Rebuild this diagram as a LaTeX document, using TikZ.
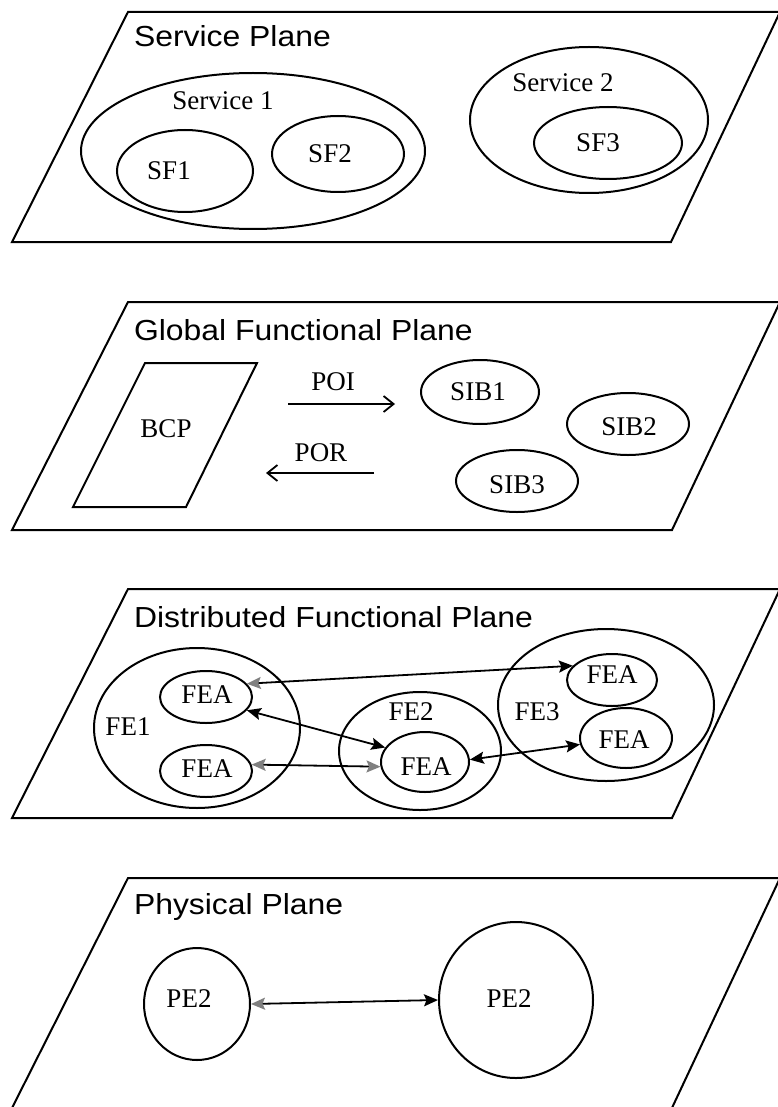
\documentclass[tikz,border=0pt]{standalone}
\usepackage{fontspec}
\setmainfont{Liberation Serif}
\newfontfamily\titlefont[FakeStretch=1.1]{Liberation Sans}
\usetikzlibrary{shapes.geometric,arrows.meta}
\begin{document}
\begin{tikzpicture}[x=1pt,y=-1pt,line width=2pt,
  plane/.style={draw,line join=miter},
  ell/.style={draw,ellipse,inner sep=0pt},
  lbl/.style={anchor=base,inner sep=0pt,font=\fontsize{27}{30}\selectfont},
  ptitle/.style={anchor=base west,inner sep=0pt,font=\titlefont\fontsize{29}{32}\selectfont},
  openarrow/.style={line width=1.8pt,-{Straight Barb[length=10pt,width=16pt]}},
  dblarrow/.style={line width=1.8pt,{Stealth[length=14pt,width=12pt,inset=2.5pt]}-{Stealth[length=14pt,width=12pt,inset=2.5pt]}},
  dblgrayL/.style={line width=1.8pt,{Stealth[length=14pt,width=12pt,inset=2.5pt,color=gray]}-{Stealth[length=14pt,width=12pt,inset=2.5pt]}},
  dblgray/.style={line width=1.8pt,{Stealth[length=14pt,width=12pt,inset=2.5pt,color=gray]}-{Stealth[length=14pt,width=12pt,inset=2.5pt,color=gray]}}]
\useasboundingbox (0,0) rectangle (778,1107);
\fill[white] (0,0) rectangle (778,1107);

% ---------- Service Plane ----------
\draw[plane] (128,12) -- (780,12) -- (671,242) -- (12,242) -- cycle;
\node[ptitle] (t1) at (133,47) {Service Plane};
\node[ell,minimum width=344pt,minimum height=156pt] (svc1) at (253,151) {};
\node[ell,minimum width=136pt,minimum height=82pt] (sf1) at (185,171) {};
\node[ell,minimum width=132pt,minimum height=76pt] (sf2) at (338,154) {};
\node[ell,minimum width=238pt,minimum height=146pt] (svc2) at (589,120) {};
\node[ell,minimum width=148pt,minimum height=72pt] (sf3) at (608,143) {};
\node[lbl] (lsvc1) at (223,110) {Service 1};
\node[lbl] (lsvc2) at (563,92) {Service 2};
\node[lbl] (lsf1) at (169,180) {SF1};
\node[lbl] (lsf2) at (330,163) {SF2};
\node[lbl] (lsf3) at (598,152) {SF3};

% ---------- Global Functional Plane ----------
\draw[plane] (128,302) -- (780,302) -- (672,530) -- (12,530) -- cycle;
\node[ptitle] (t2) at (133,340) {Global Functional Plane};
\draw[plane] (145,363) -- (257,363) -- (186,507) -- (73,507) -- cycle;
\node[lbl] (lbcp) at (166,437) {BCP};
\node[lbl] (lpoi) at (333,390) {POI};
\node[lbl] (lpor) at (321,461) {POR};
\coordinate (poiS) at (288,404);
\coordinate (poiE) at (395,404);
\coordinate (porS) at (374,473);
\coordinate (porE) at (266,473);
\draw[openarrow] (poiS) -- (poiE);
\draw[openarrow] (porS) -- (porE);
\node[ell,minimum width=118pt,minimum height=64pt] (sib1) at (480,392) {};
\node[ell,minimum width=122pt,minimum height=62pt] (sib2) at (628,424) {};
\node[ell,minimum width=122pt,minimum height=62pt] (sib3) at (517,481) {};
\node[lbl] (lsib1) at (478,400) {SIB1};
\node[lbl] (lsib2) at (629,435) {SIB2};
\node[lbl] (lsib3) at (517,493) {SIB3};

% ---------- Distributed Functional Plane ----------
\draw[plane] (128,589) -- (780,589) -- (672,818) -- (12,818) -- cycle;
\node[ptitle] (t3) at (133,627) {Distributed Functional Plane};
\node[ell,minimum width=206pt,minimum height=160pt] (fe1) at (197,728) {};
\node[ell,minimum width=162pt,minimum height=118pt] (fe2) at (420,751) {};
\node[ell,minimum width=216pt,minimum height=152pt] (fe3) at (606,705) {};
\node[ell,minimum width=92pt,minimum height=52pt] (fe1a) at (206,697) {};
\node[ell,minimum width=92pt,minimum height=52pt] (fe1b) at (206,771) {};
\node[ell,minimum width=88pt,minimum height=60pt] (fe2a) at (425,762) {};
\node[ell,minimum width=90pt,minimum height=52pt] (fe3a) at (612,680) {};
\node[ell,minimum width=92pt,minimum height=60pt] (fe3b) at (626,738) {};
\node[lbl] (lfe1) at (128,735) {FE1};
\node[lbl] (lfe2) at (411,720) {FE2};
\node[lbl] (lfe3) at (537,720) {FE3};
\node[lbl] (lfea1) at (207,703) {FEA};
\node[lbl] (lfea2) at (207,777) {FEA};
\node[lbl] (lfea3) at (426,775) {FEA};
\node[lbl] (lfea4) at (612,683) {FEA};
\node[lbl] (lfea5) at (624,748) {FEA};
\draw[dblgrayL] (fe1a.18) -- (fe3a.160);
\draw[dblarrow] (fe1a.-18) -- (fe2a.160);
\draw[dblgray] (fe1b.8) -- (fe2a.186);
\draw[dblarrow] (fe2a.3) -- (fe3b.188);

% ---------- Physical Plane ----------
\draw[plane] (11,1110) -- (128,878) -- (780,878) -- (671,1110);
\node[ptitle] (t4) at (133,914) {Physical Plane};
\node[ell,minimum width=106pt,minimum height=112pt] (pe1) at (197,1004) {};
\node[ell,minimum width=154pt,minimum height=156pt] (pe2) at (516,1000) {};
\node[lbl] (lpe1) at (189,1007) {PE2};
\node[lbl] (lpe2) at (509,1007) {PE2};
\draw[dblgrayL] (pe1.east) -- (pe2.west);
\end{tikzpicture}
\end{document}
